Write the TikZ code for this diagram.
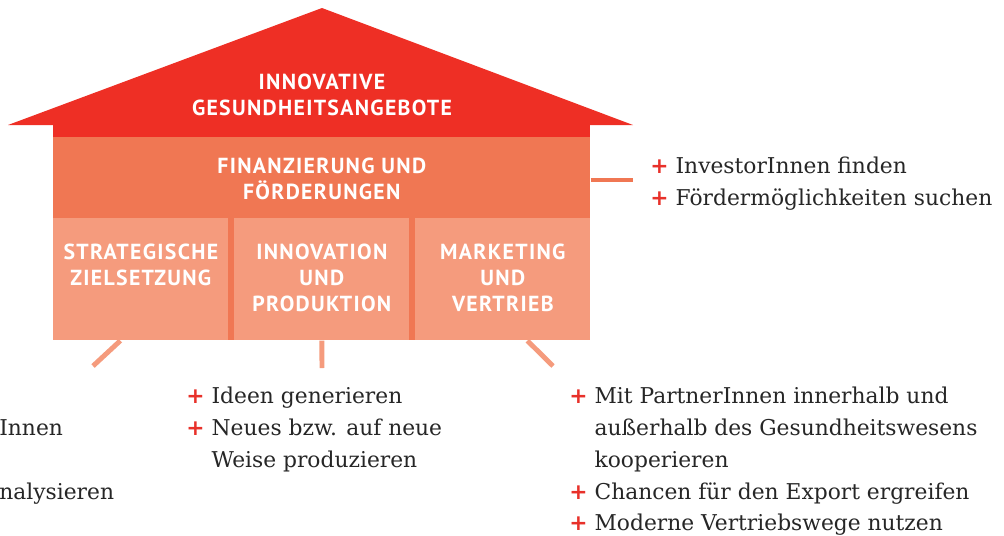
\documentclass[tikz,border=0pt]{standalone}
\usepackage{fontspec}
\setmainfont{DejaVu Serif}
\newfontfamily\headfont[LetterSpace=6]{PT Sans}
\newfontfamily\plusfont{DejaVu Sans}
\usetikzlibrary{positioning}

\definecolor{roofred}{HTML}{EE2F25}
\definecolor{finorange}{HTML}{F07753}
\definecolor{pillarorange}{HTML}{F59B7D}
\definecolor{plusred}{HTML}{E8312A}
\definecolor{textgray}{HTML}{262626}

\newcommand{\pl}{{\plusfont\bfseries\color{plusred}+}}

\begin{document}
\begin{tikzpicture}[x=0.02cm, y=-0.02cm,
    heading/.style={font=\headfont\bfseries\fontsize{12.4}{14.7}\selectfont, text=white, align=center, inner sep=0pt},
    pillar/.style={fill=pillarorange, minimum width=3.5cm, minimum height=2.44cm, anchor=north west, inner sep=0pt},
    itemlist/.style={font=\fontsize{12.4}{18.1}\selectfont, text=textgray, align=left, inner sep=0pt, anchor=north west},
    leg/.style={line width=2.8pt, draw=pillarorange},
    link/.style={line width=2.3pt, draw=finorange}]

    \useasboundingbox (0,0) rectangle (1004,535);

    % roof
    \fill[roofred] (8,125) -- (322,8) -- (633,125) -- cycle;
    \fill[roofred] (53,124) rectangle (590,137);
    \node[heading, anchor=north] (roof) at (322,74) {INNOVATIVE\\GESUNDHEITSANGEBOTE};

    % body and pillars
    \node[fill=finorange, minimum width=10.74cm, minimum height=4.06cm, anchor=north west, inner sep=0pt] (body) at (53,137) {};
    \node[heading, below=0.42cm of body.north] (fintext) {FINANZIERUNG UND\\FÖRDERUNGEN};
    \node[pillar] (strat) at (53,218) {};
    \node[pillar] (innov) at (234,218) {};
    \node[pillar] (market) at (415,218) {};
    \node[heading, below=0.52cm of strat.north] (strattext) {STRATEGISCHE\\ZIELSETZUNG};
    \node[heading, below=0.52cm of innov.north] (innovtext) {INNOVATION\\UND\\PRODUKTION};
    \node[heading, below=0.52cm of market.north] (markettext) {MARKETING\\UND\\VERTRIEB};

    % connectors
    \coordinate (finlink) at (633,180);
    \coordinate (stratfoot) at (93,366);
    \coordinate (innovfoot) at (322,368);
    \coordinate (marketfoot) at (553,366);
    \draw[link] (body.east |- finlink) -- (finlink);
    \draw[leg] ([xshift=-0.41cm]strat.south) -- (stratfoot);
    \draw[leg] (innov.south) -- (innovfoot);
    \draw[leg] ([xshift=0.49cm]market.south) -- (marketfoot);

    % lists
    \node[itemlist] (finlist) at (650,151) {\begin{tabular}{@{}l@{\hspace{4pt}}l@{}}
        \pl & InvestorInnen finden\\
        \pl & Fördermöglichkeiten suchen
    \end{tabular}};
    \node[itemlist] (stratlist) at (-1,381) {\begin{tabular}{@{}l@{}}
        \\
        Innen\\
        \\
        nalysieren
    \end{tabular}};
    \node[itemlist] (innovlist) at (186,381) {\begin{tabular}{@{}l@{\hspace{4pt}}l@{}}
        \pl & Ideen generieren\\
        \pl & Neues bzw. auf neue\\
            & Weise produzieren
    \end{tabular}};
    \node[itemlist] (marketlist) at (569,381) {\begin{tabular}{@{}l@{\hspace{4pt}}l@{}}
        \pl & Mit PartnerInnen innerhalb und\\
            & außerhalb des Gesundheitswesens\\
            & kooperieren\\
        \pl & Chancen für den Export ergreifen\\
        \pl & Moderne Vertriebswege nutzen
    \end{tabular}};

\end{tikzpicture}
\end{document}
